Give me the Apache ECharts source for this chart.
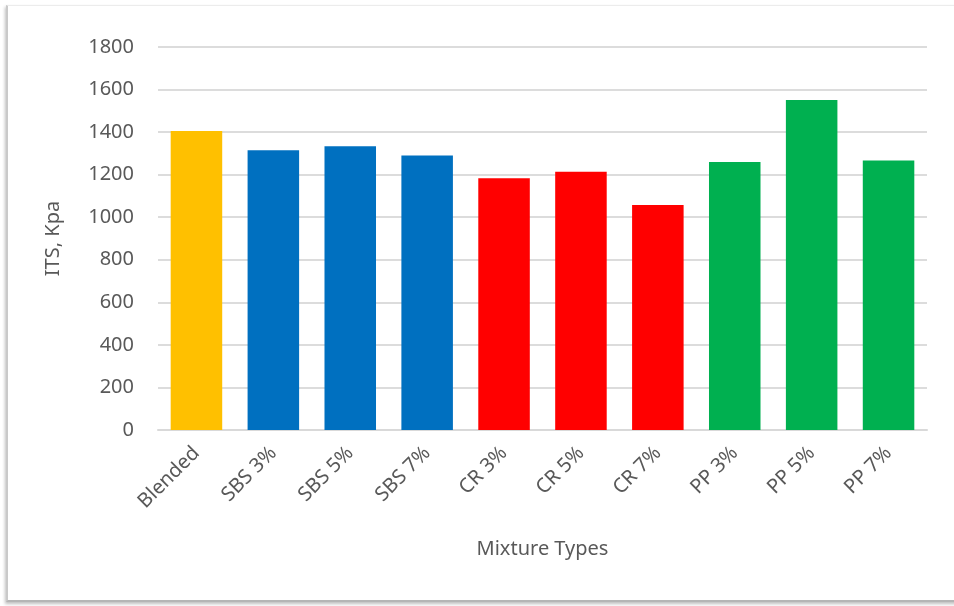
<!DOCTYPE html>
<html>
<head>
<meta charset="utf-8">
<title>ITS by Mixture Type</title>
<script src="https://cdn.jsdelivr.net/npm/echarts@6/dist/echarts.min.js"></script>
<style>
  html, body { margin: 0; padding: 0; background: #ffffff; }
  body { width: 954px; height: 606px; position: relative; overflow: hidden; }
  #frame {
    position: absolute; left: 6px; top: 5px; width: 980px; height: 594px;
    border-left: 2px solid #c9c9c9; border-top: 1px solid #ececec; border-bottom: 2px solid #b5b5b5;
    box-shadow: -1px 2px 3px rgba(0,0,0,0.25);
    background: #ffffff;
  }
  #chart { position: absolute; left: 0; top: 0; width: 954px; height: 606px; }
</style>
</head>
<body>
<div id="frame"></div>
<div id="chart"></div>
<script>
// Indirect tensile strength per asphalt mixture
const categories = ['Blended', 'SBS 3%', 'SBS 5%', 'SBS 7%', 'CR 3%', 'CR 5%', 'CR 7%', 'PP 3%', 'PP 5%', 'PP 7%'];
const itsValues = [1405, 1315, 1333, 1290, 1183, 1214, 1057, 1260, 1551, 1267];
const barColors = ['#FFC000', '#0070C0', '#0070C0', '#0070C0', '#FF0000', '#FF0000', '#FF0000', '#00B050', '#00B050', '#00B050'];
const yTicks = [0, 200, 400, 600, 800, 1000, 1200, 1400, 1600, 1800];

const textColor = '#595959';
const fontFamily = '"Noto Sans", "DejaVu Sans", sans-serif';

const chart = echarts.init(document.getElementById('chart'), null, { renderer: 'canvas' });

chart.setOption({
  animation: false,
  textStyle: { fontFamily: fontFamily },
  grid: { left: 158, right: 27, top: 47, bottom: 176 },
  xAxis: {
    type: 'category',
    data: categories,
    name: 'Mixture Types',
    nameLocation: 'middle',
    nameGap: 109,
    nameTextStyle: { color: textColor, fontSize: 20, fontFamily: fontFamily },
    axisLine: { show: true, lineStyle: { color: '#d9d9d9', width: 2 } },
    axisTick: { show: false },
    axisLabel: {
      rotate: 45,
      margin: 20,
      color: textColor,
      fontSize: 20,
      fontFamily: fontFamily,
      interval: 0
    }
  },
  yAxis: {
    type: 'value',
    min: yTicks[0],
    max: yTicks[yTicks.length - 1],
    interval: 200,
    name: 'ITS, Kpa',
    nameLocation: 'middle',
    nameGap: 95,
    nameRotate: 90,
    nameTextStyle: { color: textColor, fontSize: 20, fontFamily: fontFamily },
    axisLine: { show: false },
    axisTick: { show: false },
    axisLabel: {
      color: textColor,
      fontSize: 20,
      margin: 24,
      fontFamily: fontFamily,
      formatter: (v) => String(v)
    },
    splitLine: { show: true, lineStyle: { color: '#dcdcdc', width: 2 } }
  },
  series: [{
    type: 'bar',
    barCategoryGap: '33%',
    data: itsValues.map((v, i) => ({ value: v, itemStyle: { color: barColors[i] } }))
  }]
});
</script>
</body>
</html>
